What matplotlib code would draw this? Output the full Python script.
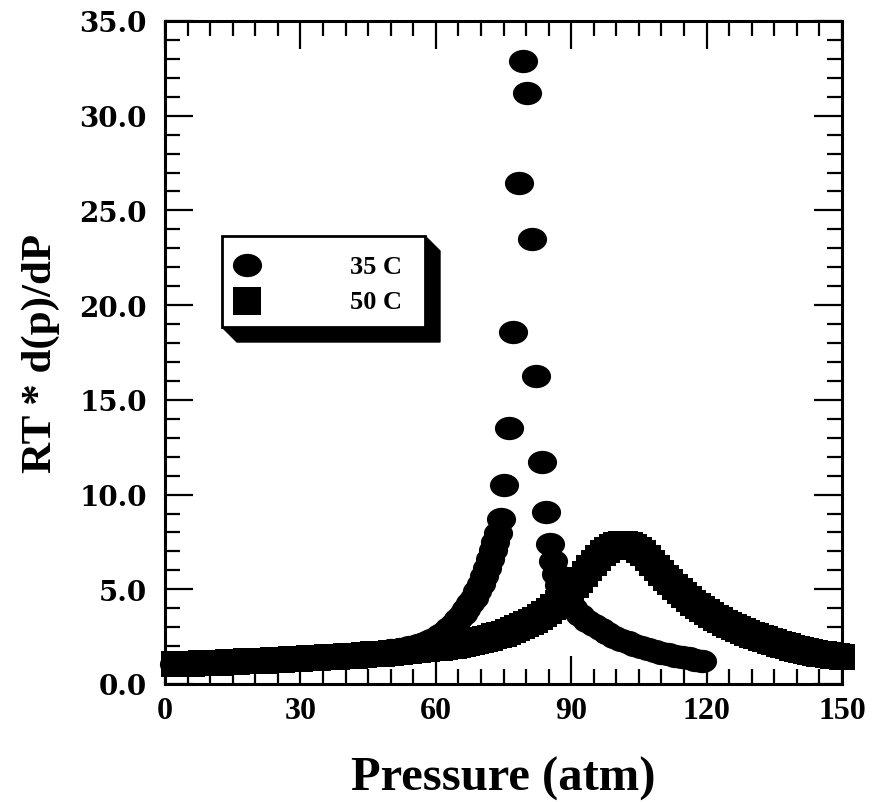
import matplotlib
matplotlib.use("Agg")
import matplotlib.pyplot as plt
from matplotlib.path import Path
from matplotlib.transforms import Affine2D
from matplotlib.lines import Line2D
from matplotlib.patches import Polygon, Rectangle
from matplotlib.ticker import MultipleLocator, FormatStrFormatter

# ---- data: RT * d(rho)/dP versus pressure for CO2 isotherms ----
p_35 = [2, 4, 6, 8, 10, 12, 14, 16, 18, 20, 22, 24, 26, 28, 30, 32, 34, 36,
        38, 40, 42, 44, 46, 48, 50, 52, 54, 56, 57, 58, 59, 60, 61, 62, 63,
        64, 65, 66, 66.8, 67.6, 68.4, 69.2, 70, 70.7, 71.4, 72, 72.6, 73.2,
        73.8, 74.4, 75.2, 76.3, 77.1, 78.4, 79.3, 80.2, 81.3, 82.2, 83.5, 84.4,
        85.3, 85.9, 86.6, 87.4, 88.3, 89.3, 90.5, 92, 93.5, 95, 96.5, 98, 99.5,
        101, 102.5, 104, 105.5, 107, 108.5, 110, 111.5, 113, 114.5, 116, 117.5,
        119]
v_35 = [1.05, 1.07, 1.09, 1.1, 1.12, 1.13, 1.15, 1.17, 1.18, 1.2, 1.22, 1.25,
        1.27, 1.3, 1.32, 1.35, 1.38, 1.42, 1.46, 1.5, 1.54, 1.59, 1.64, 1.7,
        1.77, 1.85, 1.95, 2.06, 2.13, 2.2, 2.3, 2.42, 2.58, 2.76, 2.96, 3.18,
        3.42, 3.7, 3.96, 4.25, 4.56, 4.9, 5.3, 5.7, 6.15, 6.6, 7.05, 7.5, 7.95,
        8.7, 10.5, 13.5, 18.6, 26.45, 32.9, 31.2, 23.5, 16.25, 11.7, 9.1, 7.4,
        6.5, 5.8, 5.2, 4.75, 4.35, 4.0, 3.65, 3.35, 3.1, 2.88, 2.68, 2.5, 2.34,
        2.2, 2.07, 1.95, 1.84, 1.74, 1.65, 1.57, 1.49, 1.42, 1.35, 1.28, 1.21]

p_50 = [2, 4, 6, 8, 10, 12, 14, 16, 18, 20, 22, 24, 26, 28, 30, 32, 34, 36,
        38, 40, 42, 44, 46, 48, 50, 52, 54, 56, 58, 60, 61, 62, 63, 64, 65, 66,
        67, 68, 69, 70, 71, 72, 73, 74, 75, 76, 77, 78, 79, 80, 81, 82, 83, 84,
        85, 86, 87, 88, 89, 90, 91, 92, 93, 94, 95, 96, 97, 98, 99, 100, 101,
        102, 103, 104, 105, 106, 107, 108, 109, 110, 111, 112, 113, 114, 115,
        116, 117, 118, 119, 120, 121, 122, 123, 124, 125, 126, 127, 128, 129,
        130, 131, 132, 133, 134, 135, 136, 137, 138, 139, 140, 141, 142, 143,
        144, 145, 146, 147, 148, 149, 150]
v_50 = [1.03, 1.05, 1.07, 1.09, 1.11, 1.13, 1.15, 1.17, 1.19, 1.21, 1.24,
        1.26, 1.28, 1.31, 1.33, 1.36, 1.38, 1.41, 1.44, 1.47, 1.5, 1.53, 1.56,
        1.6, 1.64, 1.68, 1.72, 1.77, 1.83, 1.89, 1.92, 1.96, 2.0, 2.03, 2.07,
        2.11, 2.16, 2.2, 2.25, 2.31, 2.37, 2.44, 2.51, 2.58, 2.66, 2.75, 2.85,
        2.95, 3.05, 3.15, 3.27, 3.4, 3.53, 3.67, 3.85, 4.05, 4.27, 4.5, 4.75,
        5.0, 5.25, 5.5, 5.8, 6.1, 6.4, 6.65, 6.9, 7.1, 7.25, 7.35, 7.4, 7.4,
        7.35, 7.25, 7.1, 6.9, 6.65, 6.4, 6.12, 5.85, 5.6, 5.36, 5.12, 4.9, 4.68,
        4.48, 4.29, 4.11, 3.95, 3.8, 3.66, 3.51, 3.37, 3.24, 3.12, 3.0, 2.89,
        2.79, 2.69, 2.6, 2.51, 2.43, 2.35, 2.28, 2.21, 2.12, 2.05, 1.98, 1.91,
        1.85, 1.79, 1.74, 1.69, 1.65, 1.61, 1.57, 1.53, 1.5, 1.47, 1.45]

series_labels = ["35 C", "50 C"]
x_ticks = [0, 30, 60, 90, 120, 150]
y_ticks = [0, 5, 10, 15, 20, 25, 30, 35]

W, H = 875, 803
fig = plt.figure(figsize=(W / 100, H / 100), dpi=100)
fig.patch.set_facecolor("white")


def fpx(x, y):
    """pixel position (from top-left) -> figure fraction"""
    return x / W, 1 - y / H


ax = fig.add_axes([165 / W, (H - 685) / H, (842 - 165) / W, (685 - 22) / H])

# slightly wide filled dot and a filled square
dot = Path.unit_circle().transformed(Affine2D().scale(1.25, 1.0))

ax.plot(p_35, v_35, linestyle="none", marker=dot, markersize=21,
        markerfacecolor="black", markeredgewidth=0, color="black",
        clip_on=False, zorder=3)
ax.plot(p_50, v_50, linestyle="none", marker="s", markersize=19,
        markerfacecolor="black", markeredgewidth=0, color="black",
        clip_on=False, zorder=3)

ax.set_xlim(0, 150)
ax.set_ylim(0, 35)
ax.set_xticks(x_ticks)
ax.set_yticks(y_ticks)
ax.xaxis.set_minor_locator(MultipleLocator(5))
ax.yaxis.set_minor_locator(MultipleLocator(1))
ax.yaxis.set_major_formatter(FormatStrFormatter("%.1f"))

for s in ax.spines.values():
    s.set_linewidth(2.2)
    s.set_color("black")

ax.tick_params(which="both", direction="in", top=True, right=True,
               width=1.6, color="black")
ax.tick_params(which="major", length=20)
ax.tick_params(which="minor", length=11)
ax.tick_params(axis="x", which="major", pad=9)
ax.tick_params(axis="y", which="major", pad=13)

for lab in ax.get_xticklabels():
    lab.set_fontfamily("Liberation Serif")
    lab.set_fontweight("bold")
    lab.set_fontsize(23)
for lab in ax.get_yticklabels():
    lab.set_fontfamily("DejaVu Serif")
    lab.set_fontweight("bold")
    lab.set_fontsize(20)

ax.set_xlabel("Pressure (atm)", fontfamily="Liberation Serif",
              fontweight="bold", fontsize=35, labelpad=22)
ax.set_ylabel("RT * d(p)/dP", fontfamily="Liberation Serif",
              fontweight="bold", fontsize=31, labelpad=14)

# legend box with a solid drop shadow
bx0, by0, bx1, by1, d = 222, 237, 425, 328, 15
shadow = Polygon([fpx(bx1, by0), fpx(bx1 + d, by0 + d), fpx(bx1 + d, by1 + d),
                  fpx(bx0 + d, by1 + d), fpx(bx0, by1)],
                 closed=True, transform=fig.transFigure, facecolor="black",
                 edgecolor="black", linewidth=1, zorder=5)
fig.add_artist(shadow)
x0f, y1f = fpx(bx0, by1)
x1f, y0f = fpx(bx1, by0)
box = Rectangle((x0f, y1f), x1f - x0f, y0f - y1f, transform=fig.transFigure,
                facecolor="white", edgecolor="black", linewidth=2.0, zorder=6)
fig.add_artist(box)

for (my, mk, ms), text in zip([(266, dot, 21), (302, "s", 20)], series_labels):
    mx, mfy = fpx(247, my)
    fig.add_artist(Line2D([mx], [mfy], transform=fig.transFigure,
                          linestyle="none", marker=mk, markersize=ms,
                          markerfacecolor="black", markeredgewidth=0,
                          zorder=7))
    tx, ty = fpx(402, my + 1)
    fig.text(tx, ty, text, ha="right", va="center",
             fontfamily="Liberation Serif", fontweight="bold", fontsize=19,
             zorder=7)

fig.savefig("out.png", dpi=100, facecolor="white")
